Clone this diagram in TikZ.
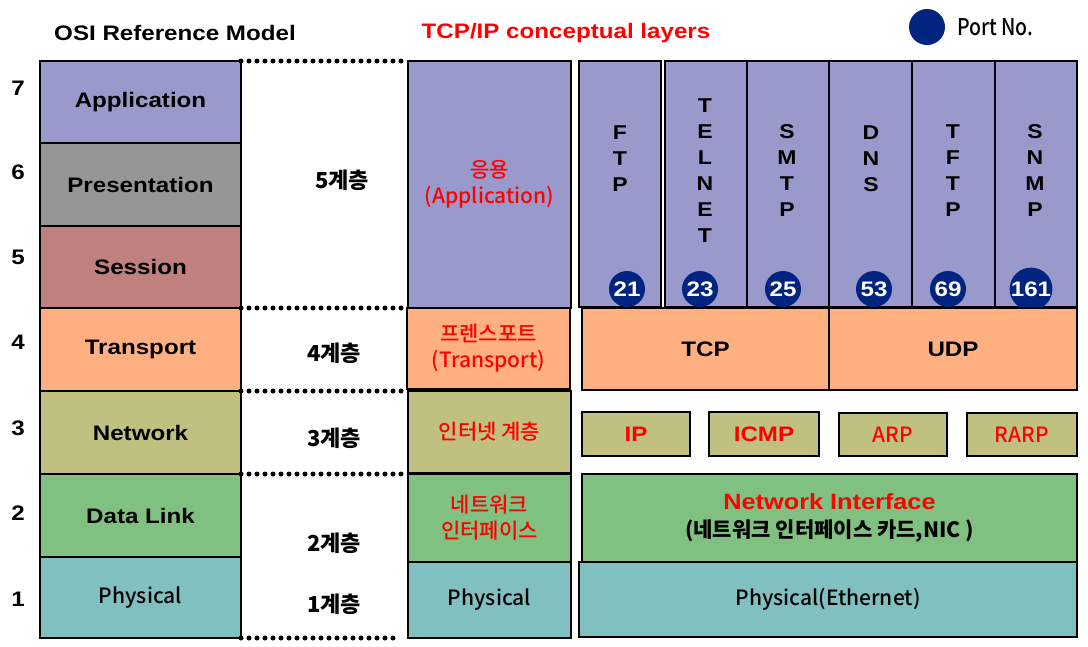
\documentclass[tikz,border=0pt]{standalone}
\usepackage{fontspec}
\setmainfont{Liberation Sans}[FakeStretch=1.15]
\newfontfamily\kr{Noto Sans CJK KR Medium}
\newfontfamily\krb{Noto Sans CJK KR}
\newfontfamily\portf{Noto Sans CJK KR Medium}[FakeStretch=0.85]
\definecolor{cApp}{RGB}{153,153,204}
\definecolor{cPres}{RGB}{150,150,150}
\definecolor{cSes}{RGB}{192,128,128}
\definecolor{cTr}{RGB}{255,176,128}
\definecolor{cNet}{RGB}{192,192,128}
\definecolor{cDl}{RGB}{128,192,128}
\definecolor{cPhy}{RGB}{128,192,192}
\definecolor{cPort}{RGB}{0,36,128}
\tikzset{
  box/.style={draw=black, line width=1.2pt, inner sep=0pt, outer sep=0pt, align=center},
  en/.style={font=\fontsize{21}{26}\selectfont\bfseries},
  ko/.style={font=\kr\fontsize{21}{26}\selectfont},
  kob/.style={font=\krb\bfseries\fontsize{22}{26}\selectfont},
  red/.style={text=red},
  letters/.style={align=center, inner sep=0pt, font=\fontsize{20}{26}\selectfont\bfseries},
  port/.style={circle, fill=cPort, minimum size=36pt, inner sep=0pt, text=white, font=\fontsize{21}{22}\selectfont\bfseries},
  dotline/.style={line width=5pt, dash pattern=on 0pt off 8pt, line cap=round},
  num/.style={font=\fontsize{21}{25}\selectfont\bfseries, inner sep=0pt},
}
\newcommand\lbox[7]{\node[box,#6,minimum width={#4-#2},minimum height={#5-#3}] (#1) at ({(#2+#4)/2},{(#3+#5)/2}) {#7};}
\begin{document}
\begin{tikzpicture}[x=1pt,y=-1pt]
\useasboundingbox (0,0) rectangle (1088,646);
% headers
\node[en] (hosi) at (175,33) {OSI Reference Model};
\node[en,red] (htcp) at (566,33) {TCP/IP conceptual layers};
\node[circle, fill=cPort, minimum size=36pt, inner sep=0pt] (legc) at (927,27) {};
\node[font=\portf\fontsize{23}{26}\selectfont, anchor=west, inner sep=0pt] (legt) at (957,27) {Port No.};
% layer numbers
\node[num] (n7) at (18,88) {7};
\node[num] (n6) at (18,172) {6};
\node[num] (n5) at (18,257) {5};
\node[num] (n4) at (18,342) {4};
\node[num] (n3) at (18,428) {3};
\node[num] (n2) at (18,513) {2};
\node[num] (n1) at (18,599) {1};
% OSI column
\lbox{osi7}{40}{61}{241}{143}{fill=cApp,en}{Application}
\lbox{osi6}{40}{143}{241}{226}{fill=cPres,en}{Presentation}
\lbox{osi5}{40}{226}{241}{308}{fill=cSes,en}{Session}
\lbox{osi4}{40}{308}{241}{391}{fill=cTr,en}{Transport}
\lbox{osi3}{40}{391}{241}{474}{fill=cNet,en}{Network}
\lbox{osi2}{40}{474}{241}{557}{fill=cDl,en}{Data Link}
\lbox{osi1}{40}{557}{241}{638}{fill=cPhy,ko}{Physical}
% middle column
\lbox{mapp}{408}{61}{571}{308}{fill=cApp,ko,red}{응용\\(Application)}
\lbox{mtr}{407}{308}{570}{389}{fill=cTr,ko,red}{프렌스포트\\(Transport)}
\lbox{mnet}{408}{391}{571}{473}{fill=cNet,ko,red}{인터넷 계층}
\lbox{mni}{408}{474}{571}{562}{fill=cDl,ko,red}{네트워크\\인터페이스}
\lbox{mphy}{408}{562}{571}{638}{fill=cPhy,ko}{Physical}
% dotted separators
\draw[dotline] (osi7.north east) -- (mapp.north west);
\draw[dotline] (osi4.north east) -- (mtr.north west);
\draw[dotline] (osi3.north east) -- (mnet.north west);
\draw[dotline] (osi2.north east) -- (mni.north west);
\coordinate (dend) at (400,638);
\draw[dotline] (osi1.south east) -- (dend);
% layer group labels
\node[kob] (l5) at (342,180) {5계층};
\node[kob] (l4) at (334,353) {4계층};
\node[kob] (l3) at (334,438) {3계층};
\node[kob] (l2) at (334,543) {2계층};
\node[kob] (l1) at (334,604) {1계층};
% application protocols
\lbox{aftp}{579}{61}{661}{307}{fill=cApp}{}
\lbox{atel}{665}{61}{747}{307}{fill=cApp}{}
\lbox{asmtp}{747}{61}{829}{307}{fill=cApp}{}
\lbox{adns}{829}{61}{912}{307}{fill=cApp}{}
\lbox{atftp}{912}{61}{995}{307}{fill=cApp}{}
\lbox{asnmp}{995}{61}{1077}{307}{fill=cApp}{}
\node[letters] (tftp) at (620,159) {F\\T\\P};
\node[letters] (ttel) at (705,171) {T\\E\\L\\N\\E\\T};
\node[letters] (tsmtp) at (787,171) {S\\M\\T\\P};
\node[letters] (tdns) at (871,159) {D\\N\\S};
\node[letters] (ttftp) at (953,171) {T\\F\\T\\P};
\node[letters] (tsnmp) at (1035,171) {S\\N\\M\\P};
\node[port] (p21) at (627,289) {21};
\node[port] (p23) at (700,289) {23};
\node[port] (p25) at (783,289) {25};
\node[port] (p53) at (874,289) {53};
\node[port] (p69) at (948,289) {69};
\node[port] (p161) at (1031,289) {161};
% transport
\lbox{tcp}{582}{308}{829}{390}{fill=cTr,en}{TCP}
\lbox{udp}{829}{308}{1077}{390}{fill=cTr,en}{UDP}
% internet
\lbox{ip}{582}{412}{690}{456}{fill=cNet,en,red}{IP}
\lbox{icmp}{709}{412}{819}{456}{fill=cNet,en,red}{ICMP}
\lbox{arp}{839}{413}{947}{456}{fill=cNet,ko,red}{ARP}
\lbox{rarp}{967}{413}{1077}{456}{fill=cNet,ko,red}{RARP}
% network interface
\lbox{ni}{582}{474}{1077}{562}{fill=cDl,font=\fontsize{21}{28}\selectfont}{{\fontsize{22}{28}\selectfont\bfseries\color{red}Network Interface}\\{\krb\bfseries (네트워크 인터페이스 카드,NIC )}}
\lbox{eth}{579}{562}{1077}{637}{fill=cPhy,ko}{Physical(Ethernet)}
\end{tikzpicture}
\end{document}
